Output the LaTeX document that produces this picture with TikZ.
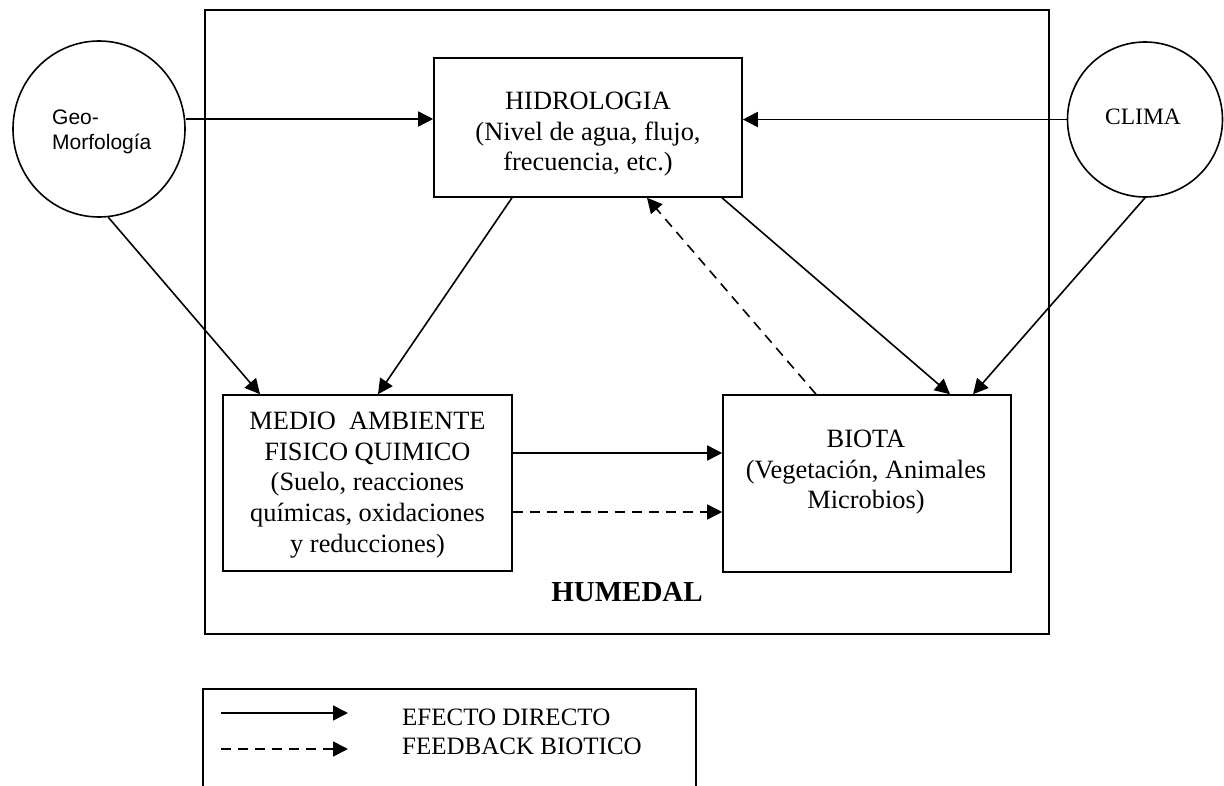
\documentclass[tikz,border=0pt]{standalone}
\usepackage{fontspec}
\setmainfont{Liberation Serif}
\newfontfamily\arialfont{Liberation Sans}
\usetikzlibrary{arrows.meta,shapes.geometric}
\begin{document}
\begin{tikzpicture}[x=1pt,y=-1pt,
 box/.style={draw,line width=1.6pt,rectangle,inner sep=0pt},
 ring/.style={draw,line width=1.6pt,inner sep=0pt},
 txt/.style={inner sep=0pt,align=center,font=\fontsize{26.4}{30.6}\selectfont},
 legtxt/.style={inner sep=0pt,anchor=base west,font=\fontsize{25}{29}\selectfont},
 arr/.style={line width=1.6pt,-{Triangle[length=15pt,width=15pt]}},
 darr/.style={arr,dash pattern=on 10pt off 7pt},
]
\useasboundingbox (0,0) rectangle (1224,786);
% boxes
\node[box,minimum width=844pt,minimum height=624pt] (humedal) at (627,322) {};
\node[box,minimum width=308pt,minimum height=139pt] (hidro) at (588,127.5) {};
\node[box,minimum width=289pt,minimum height=176pt] (medio) at (367.5,483) {};
\node[box,minimum width=288pt,minimum height=177pt] (biota) at (867,483.5) {};
\node[ring,ellipse,minimum width=172pt,minimum height=176pt] (geo) at (99,129) {};
\node[ring,circle,minimum size=155pt] (clima) at (1145,119.5) {};
% texts
\node[txt,anchor=north] (htxt) at (588,92) {HIDROLOGIA\\(Nivel de agua, flujo,\\frecuencia, etc.)};
\node[txt,anchor=north] (mtxt) at (367.5,412) {MEDIO\ \ AMBIENTE\\FISICO QUIMICO\\(Suelo, reacciones\\químicas, oxidaciones\\y reducciones)};
\node[txt,anchor=north] (btxt) at (866,430) {BIOTA\\(Vegetación, Animales\\Microbios)};
\node[inner sep=0pt,anchor=base,font=\fontsize{23.5}{27}\selectfont] (ctxt) at (1143,125) {CLIMA};
\node[inner sep=0pt,anchor=north west,align=left,font=\arialfont\fontsize{21}{25}\selectfont] (gtxt) at (52,109.6) {Geo-\\Morfología};
\node[inner sep=0pt,anchor=base,font=\bfseries\fontsize{29}{34}\selectfont] (hum) at (627,601) {HUMEDAL};
% connectors
\draw[arr] (geo.east |- 0,119) -- (hidro.west |- 0,119);
\draw[arr] (clima.west) -- (clima.west -| hidro.east);
\draw[arr] (geo.-84) -- (260,0 |- medio.north);
\draw[arr] (512,0 |- hidro.south) -- (378,0 |- medio.north);
\draw[arr] (722,0 |- hidro.south) -- (950,0 |- biota.north);
\draw[arr] (clima.south) -- (973,0 |- biota.north);
\draw[darr] (816,0 |- biota.north) -- (647,0 |- hidro.south);
\draw[arr] (medio.east |- 0,453) -- (biota.west |- 0,453);
\draw[darr] (medio.east |- 0,512) -- (biota.west |- 0,512);
% legend
\draw[line width=1.6pt] (203,790) -- (203,689) -- (696,689) -- (696,790);
\coordinate (ls1) at (221,713);
\coordinate (le1) at (348,713);
\coordinate (ls2) at (221,749);
\coordinate (le2) at (348,749);
\draw[arr] (ls1) -- (le1);
\draw[darr] (ls2) -- (le2);
\node[legtxt] (l1) at (402,725) {EFECTO DIRECTO};
\node[legtxt] (l2) at (402,754) {FEEDBACK BIOTICO};
\end{tikzpicture}
\end{document}
